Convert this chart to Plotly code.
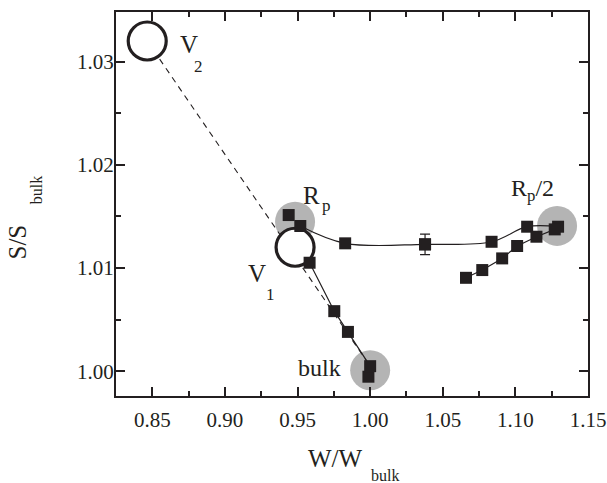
import plotly.graph_objects as go

FONT = "Liberation Serif, Times New Roman, serif"
INK = "#231f20"
GREY = "#b4b4b4"

# Branch running from the bulk state up toward V1 / Rp
bulk_branch_x = [0.9988, 1.0000, 0.9847, 0.9753, 0.9583]
bulk_branch_y = [0.99947, 1.00049, 1.00381, 1.00582, 1.01051]

# Isolated square at Rp
rp_square_x = [0.9439]
rp_square_y = [1.01513]

# Plateau curve from Rp to Rp/2
plateau_x = [0.9519, 0.9828, 1.0378, 1.0836, 1.1081, 1.1294]
plateau_y = [1.01407, 1.01239, 1.01229, 1.01254, 1.01400, 1.01400]

# Error bar on the plateau point at W/Wbulk ~ 1.04
err_x = [1.0378]
err_y = [1.01229]
err_val = [0.0010]

# Lower branch approaching Rp/2
lower_x = [1.0660, 1.0772, 1.0909, 1.1012, 1.1145, 1.1271]
lower_y = [1.00905, 1.00980, 1.01093, 1.01213, 1.01303, 1.01374]

# Open circles: V2, V1
v_x = [0.8465, 0.9483]
v_y = [1.03199, 1.01201]

# Grey halos: Rp, Rp/2, bulk
halo_x = [0.9483, 1.1287, 1.0000]
halo_y = [1.01448, 1.01408, 1.0001]

fig = go.Figure()

# grey halos underneath everything
fig.add_trace(go.Scatter(x=halo_x, y=halo_y, mode="markers",
                         marker=dict(symbol="circle", size=40, color=GREY, line=dict(width=0)),
                         hoverinfo="skip"))

# dashed straight line V2 -> bulk
fig.add_trace(go.Scatter(x=[v_x[0], bulk_branch_x[1]], y=[v_y[0], bulk_branch_y[1]],
                         mode="lines", line=dict(color=INK, width=1.1, dash="6px,5px")))

# solid line along the bulk branch
fig.add_trace(go.Scatter(x=bulk_branch_x[1:], y=bulk_branch_y[1:], mode="lines",
                         line=dict(color=INK, width=1.2)))

# smooth plateau curve
fig.add_trace(go.Scatter(x=plateau_x, y=plateau_y, mode="lines",
                         line=dict(color=INK, width=1.2, shape="spline", smoothing=1.0)))

# lower branch
fig.add_trace(go.Scatter(x=lower_x, y=lower_y, mode="lines",
                         line=dict(color=INK, width=1.2)))

# open circles V2, V1 (white filled)
fig.add_trace(go.Scatter(x=v_x, y=v_y, mode="markers",
                         marker=dict(symbol="circle", size=38, color="white",
                                     line=dict(color=INK, width=3.2))))

# error bar point
fig.add_trace(go.Scatter(x=err_x, y=err_y, mode="markers",
                         marker=dict(symbol="square", size=12, color=INK),
                         error_y=dict(type="data", array=err_val, visible=True,
                                      color=INK, thickness=1.2, width=5)))

# all data squares
sq_x = bulk_branch_x + rp_square_x + plateau_x + lower_x
sq_y = bulk_branch_y + rp_square_y + plateau_y + lower_y
fig.add_trace(go.Scatter(x=sq_x, y=sq_y, mode="markers",
                         marker=dict(symbol="square", size=12, color=INK, line=dict(width=0))))


def label(text, x, y, size, ref="data", angle=0, xanchor="center"):
    kw = dict(xref="x", yref="y") if ref == "data" else dict(xref="paper", yref="paper")
    return dict(text=text, x=x, y=y, showarrow=False, textangle=angle,
                xanchor=xanchor, yanchor="middle",
                font=dict(family=FONT, size=size, color=INK), **kw)


annotations = [
    label("V", 0.8753, 1.03162, 25), label("2", 0.8815, 1.02956, 17),
    label("V", 0.9222, 1.00946, 25), label("1", 0.9313, 1.00744, 17),
    label("R", 0.9598, 1.01707, 25), label("p", 0.9698, 1.01604, 17),
    label("R<sub>p</sub>/2", 1.1120, 1.01751, 24),
    label("bulk", 0.9648, 1.00029, 24),
    # x-axis title with a deep subscript
    label("W/W", 0.528, -0.162, 25, ref="paper", xanchor="right"),
    label("bulk", 0.535, -0.207, 16, ref="paper", xanchor="left"),
    # y-axis title, rotated
    label("S/S", -0.2087, 0.401, 25, ref="paper", angle=-90),
    label("bulk", -0.1682, 0.535, 16, ref="paper", angle=-90),
]

axis_common = dict(showline=True, linewidth=2, linecolor=INK, mirror="ticks",
                   ticks="inside", ticklen=9, tickwidth=2, tickcolor=INK,
                   showgrid=False, zeroline=False, tickformat=".2f",
                   tickfont=dict(family=FONT, size=21, color=INK))

fig.update_layout(
    width=607, height=483,
    margin=dict(l=116, r=19, t=12, b=87, autoexpand=False),
    paper_bgcolor="white", plot_bgcolor="white",
    showlegend=False,
    annotations=annotations,
    xaxis=dict(range=[0.825, 1.15], dtick=0.05, tick0=0.85, ticklabelstandoff=4,
               minor=dict(ticks="inside", ticklen=5, tickwidth=2, tickcolor=INK,
                          dtick=0.025, tick0=0.85, showgrid=False),
               **axis_common),
    yaxis=dict(range=[0.9976, 1.0348], dtick=0.01, tick0=1.0, ticklabelstandoff=-4,
               minor=dict(ticks="inside", ticklen=5, tickwidth=2, tickcolor=INK,
                          dtick=0.005, tick0=1.0, showgrid=False),
               **axis_common),
)

fig.write_html("out.html")
